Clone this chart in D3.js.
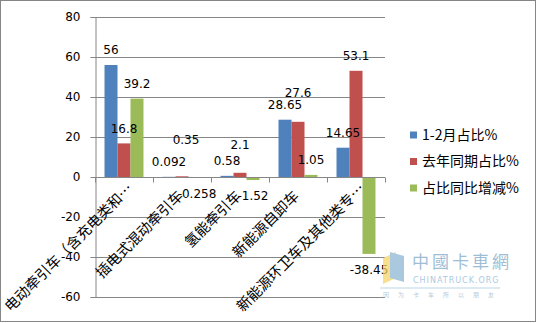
<!DOCTYPE html>
<html><head><meta charset="utf-8">
<script src="https://cdn.jsdelivr.net/npm/d3@7"></script>
<style>body{margin:0;background:#fff}svg{display:block}</style>
</head><body>
<script>
const categories = ["电动牵引车（含充电类和…", "插电式混动牵引车", "氢能牵引车", "新能源自卸车", "新能源环卫车及其他类专…"];
const seriesNames = ["1-2月占比%", "去年同期占比%", "占比同比增减%"];
const share12 = [56, 0.092, 0.58, 28.65, 14.65];
const shareLastYear = [16.8, 0.35, 2.1, 27.6, 53.1];
const shareChange = [39.2, -0.258, -1.52, 1.05, -38.45];
const yTicks = [-60, -40, -20, 0, 20, 40, 60, 80];
const colors = ["#4F81BD", "#C0504D", "#9BBB59"];
// manual label nudges (layout only)
const labelNudge = [[0,0,0,0,0],[0,-22,-13,-14,0],[0,0,0,0,0]];
const labelNudgeX = [[0,0,0,0,0],[0,4,0,0,0],[0,2,0,0,0]];

(function(){
const W = 537, H = 323;
const svg = d3.select("body").append("svg").attr("width", W).attr("height", H);
svg.append("rect").attr("x",0.5).attr("y",0.5).attr("width",W-2).attr("height",H-2)
  .attr("fill","#fff").attr("stroke","#868686");

const pL = 95, pR = 385, pT = 17, pB = 297;
const y = d3.scaleLinear().domain([-60, 80]).range([pB, pT]);
const x = d3.scaleBand().domain(categories).range([pL, pR]).paddingInner(0).paddingOuter(0);
const series = [share12, shareLastYear, shareChange];
const xs = d3.scaleBand().domain([0,1,2]).range([x.bandwidth()*0.164, x.bandwidth()*0.836]).padding(0);

// gridlines
svg.append("g").selectAll("line").data(yTicks).join("line")
  .attr("x1", pL).attr("x2", pR).attr("y1", d=>Math.round(y(d))+0.5).attr("y2", d=>Math.round(y(d))+0.5)
  .attr("stroke","#868686").attr("stroke-width",1);

// y axis
const yAxis = svg.append("g").attr("transform",`translate(${pL+0.5},0)`)
  .call(d3.axisLeft(y).tickValues(yTicks).tickSize(5).tickPadding(10).tickFormat(d=>String(d)));
yAxis.select(".domain").attr("stroke","#868686");
yAxis.selectAll(".tick line").attr("stroke","#868686");
yAxis.selectAll(".tick").attr("transform", d=>`translate(0,${Math.round(y(d))+0.5})`);
yAxis.selectAll("text").attr("font-family","DejaVu Sans").attr("font-size","12px").attr("fill","#000");

// bars
series.forEach((vals, si) => {
  svg.append("g").selectAll("rect").data(vals).join("rect")
    .attr("x", (d,i)=> x(categories[i]) + xs(si))
    .attr("width", xs.bandwidth())
    .attr("y", d => y(Math.max(0,d)))
    .attr("height", d => Math.abs(y(d)-y(0)))
    .attr("fill", colors[si]);
});

// x axis
const y0 = Math.round(y(0))+0.5;
const xAxis = svg.append("g").attr("transform",`translate(0,${y0})`);
xAxis.append("line").attr("x1",pL).attr("x2",pR).attr("stroke","#868686");
xAxis.selectAll("line.t").data(d3.range(categories.length+1)).join("line").attr("class","t")
  .attr("x1", i=> Math.round(pL + i*x.bandwidth())+0.5).attr("x2", i=> Math.round(pL + i*x.bandwidth())+0.5)
  .attr("y1",0).attr("y2",5).attr("stroke","#868686");

// category labels
const fsCat = 14.5;
svg.append("g").selectAll("text").data(categories).join("text")
  .attr("transform", d=>{
    const ext = d.endsWith("…") ? fsCat*0.75*Math.SQRT1_2 : 0;
    return `translate(${x(d)+x.bandwidth()/2-1.5+ext},${y0+16-ext}) rotate(-45)`;
  })
  .attr("text-anchor","end").attr("dy","0.35em")
  .attr("font-family","Noto Sans CJK SC").attr("font-size",fsCat+"px").attr("fill","#000")
  .text(d=>d);

// data labels
series.forEach((vals, si) => {
  svg.append("g").selectAll("text").data(vals).join("text")
    .attr("x", (d,i)=> x(categories[i]) + xs(si) + xs.bandwidth()/2 + labelNudgeX[si][i])
    .attr("y", (d,i)=> (d>=0 ? y(d)-15 : y(d)+16) + labelNudge[si][i])
    .attr("dy","0.35em").attr("text-anchor","middle")
    .attr("font-family","DejaVu Sans").attr("font-size","12px").attr("fill","#000")
    .text(d=>String(d));
});

// legend
const lg = svg.append("g");
seriesNames.forEach((n,i)=>{
  const cy = 135 + i*26.5;
  lg.append("rect").attr("x",410).attr("y",cy-3.5).attr("width",7).attr("height",7).attr("fill",colors[i]);
  lg.append("text").attr("x",422).attr("y",cy).attr("dy","0.35em")
    .attr("font-family","Noto Sans CJK SC").attr("font-size","14px").attr("fill","#000").text(n);
});

// watermark (approximation)
const wm = svg.append("g").attr("opacity",0.75);
wm.append("path").attr("d","M383,258 L396,252 L396,278 L383,284 Z").attr("fill","#f5d56a");
wm.append("path").attr("d","M390,252 L404,256 L404,282 L390,278 Z").attr("fill","#8fb8d4");
wm.append("text").attr("x",412).attr("y",268).attr("font-family","Noto Sans CJK SC").attr("font-size","17px")
  .attr("fill","#7fa9c8").attr("letter-spacing","3px").text("中國卡車網");
wm.append("text").attr("x",413).attr("y",283).attr("font-family","DejaVu Sans").attr("font-size","8px")
  .attr("fill","#8fb8d4").attr("letter-spacing","1px").text("CHINATRUCK.ORG");
wm.append("line").attr("x1",380).attr("x2",500).attr("y1",288).attr("y2",288).attr("stroke","#a9c7dc");
wm.append("text").attr("x",383).attr("y",297).attr("font-family","Noto Sans CJK SC").attr("font-size","6px")
  .attr("fill","#9fb9cc").attr("letter-spacing","9px").text("因为卡车所以朋友");
})();
</script>
</body></html>
